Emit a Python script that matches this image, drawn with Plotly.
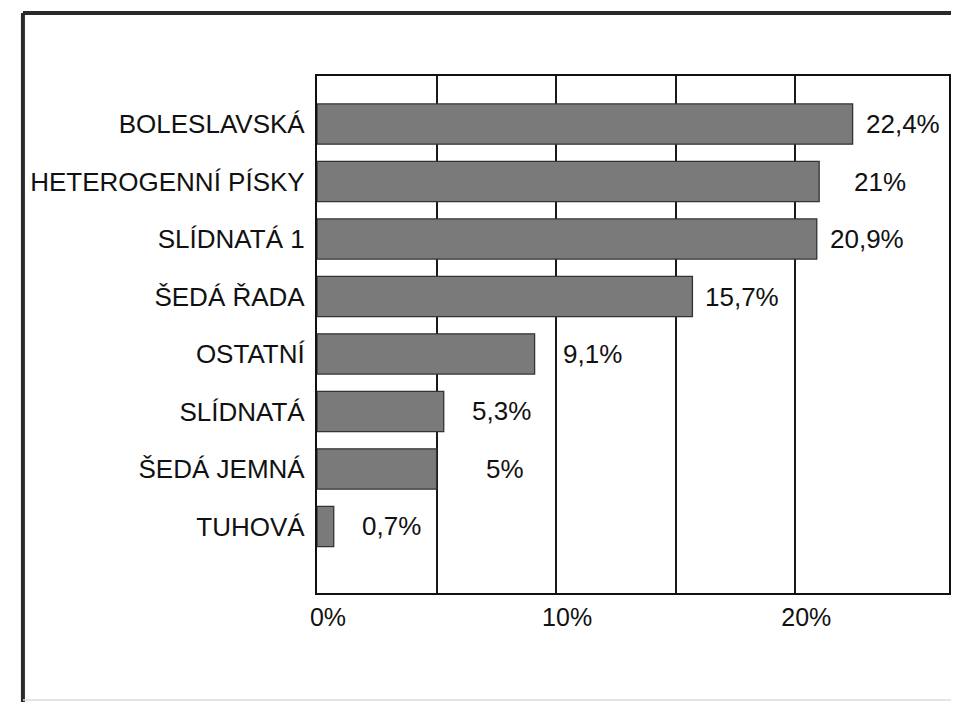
import plotly.graph_objects as go

categories = ["BOLESLAVSKÁ", "HETEROGENNÍ PÍSKY", "SLÍDNATÁ 1", "ŠEDÁ ŘADA",
              "OSTATNÍ", "SLÍDNATÁ", "ŠEDÁ JEMNÁ", "TUHOVÁ"]
values = [22.4, 21.0, 20.9, 15.7, 9.1, 5.3, 5.0, 0.7]
value_labels = ["22,4%", "21%", "20,9%", "15,7%", "9,1%", "5,3%", "5%", "0,7%"]
tick_vals = [0, 5, 10, 15, 20]
tick_text = ["0%", "", "10%", "", "20%"]

FONT = "Liberation Sans, Arial, sans-serif"

fig = go.Figure()
fig.add_trace(go.Bar(
    x=values, y=categories, orientation="h",
    width=0.70,
    marker=dict(color="#7a7a7a", line=dict(color="#333333", width=1.3)),
    hoverinfo="skip",
))

for v, c, t in zip(values, categories, value_labels):
    fig.add_annotation(x=v, y=c, text=t, xref="x", yref="y",
                       xanchor="right", yanchor="middle", xshift=89,
                       showarrow=False,
                       font=dict(family=FONT, size=26, color="#111111"))

# outer scanned frame
fig.add_shape(type="line", xref="paper", yref="paper",
              x0=-0.4653, x1=1.05, y0=1.1219, y1=1.1219,
              line=dict(color="#2a2a2a", width=4))
fig.add_shape(type="line", xref="paper", yref="paper",
              x0=-0.4653, x1=-0.4653, y0=1.1219, y1=-0.215,
              line=dict(color="#2a2a2a", width=4))
fig.add_shape(type="line", xref="paper", yref="paper",
              x0=-0.4653, x1=1.05, y0=-0.207, y1=-0.207,
              line=dict(color="#dddddd", width=1.5))

fig.update_layout(
    width=951, height=694,
    margin=dict(l=309, r=8, t=68, b=109),
    paper_bgcolor="white", plot_bgcolor="white",
    showlegend=False,
    bargap=0.3,
    font=dict(family=FONT, size=24, color="#111111"),
    xaxis=dict(
        range=[0, 26.43],
        tickvals=tick_vals, ticktext=tick_text,
        showgrid=True, gridcolor="#1a1a1a", gridwidth=1.5,
        showline=True, linecolor="#111111", linewidth=2.2, mirror=True,
        zeroline=False, ticks="",
        ticklabelshift=11, ticklabelstandoff=1,
        tickfont=dict(family=FONT, size=25, color="#111111"),
    ),
    yaxis=dict(
        type="category",
        categoryorder="array", categoryarray=categories,
        range=[8.157, -0.835],
        showgrid=False,
        showline=True, linecolor="#111111", linewidth=2.2, mirror=True,
        zeroline=False, ticks="",
        ticklabelstandoff=5,
        tickfont=dict(family=FONT, size=26, color="#111111"),
    ),
)

fig.write_html("out.html")
